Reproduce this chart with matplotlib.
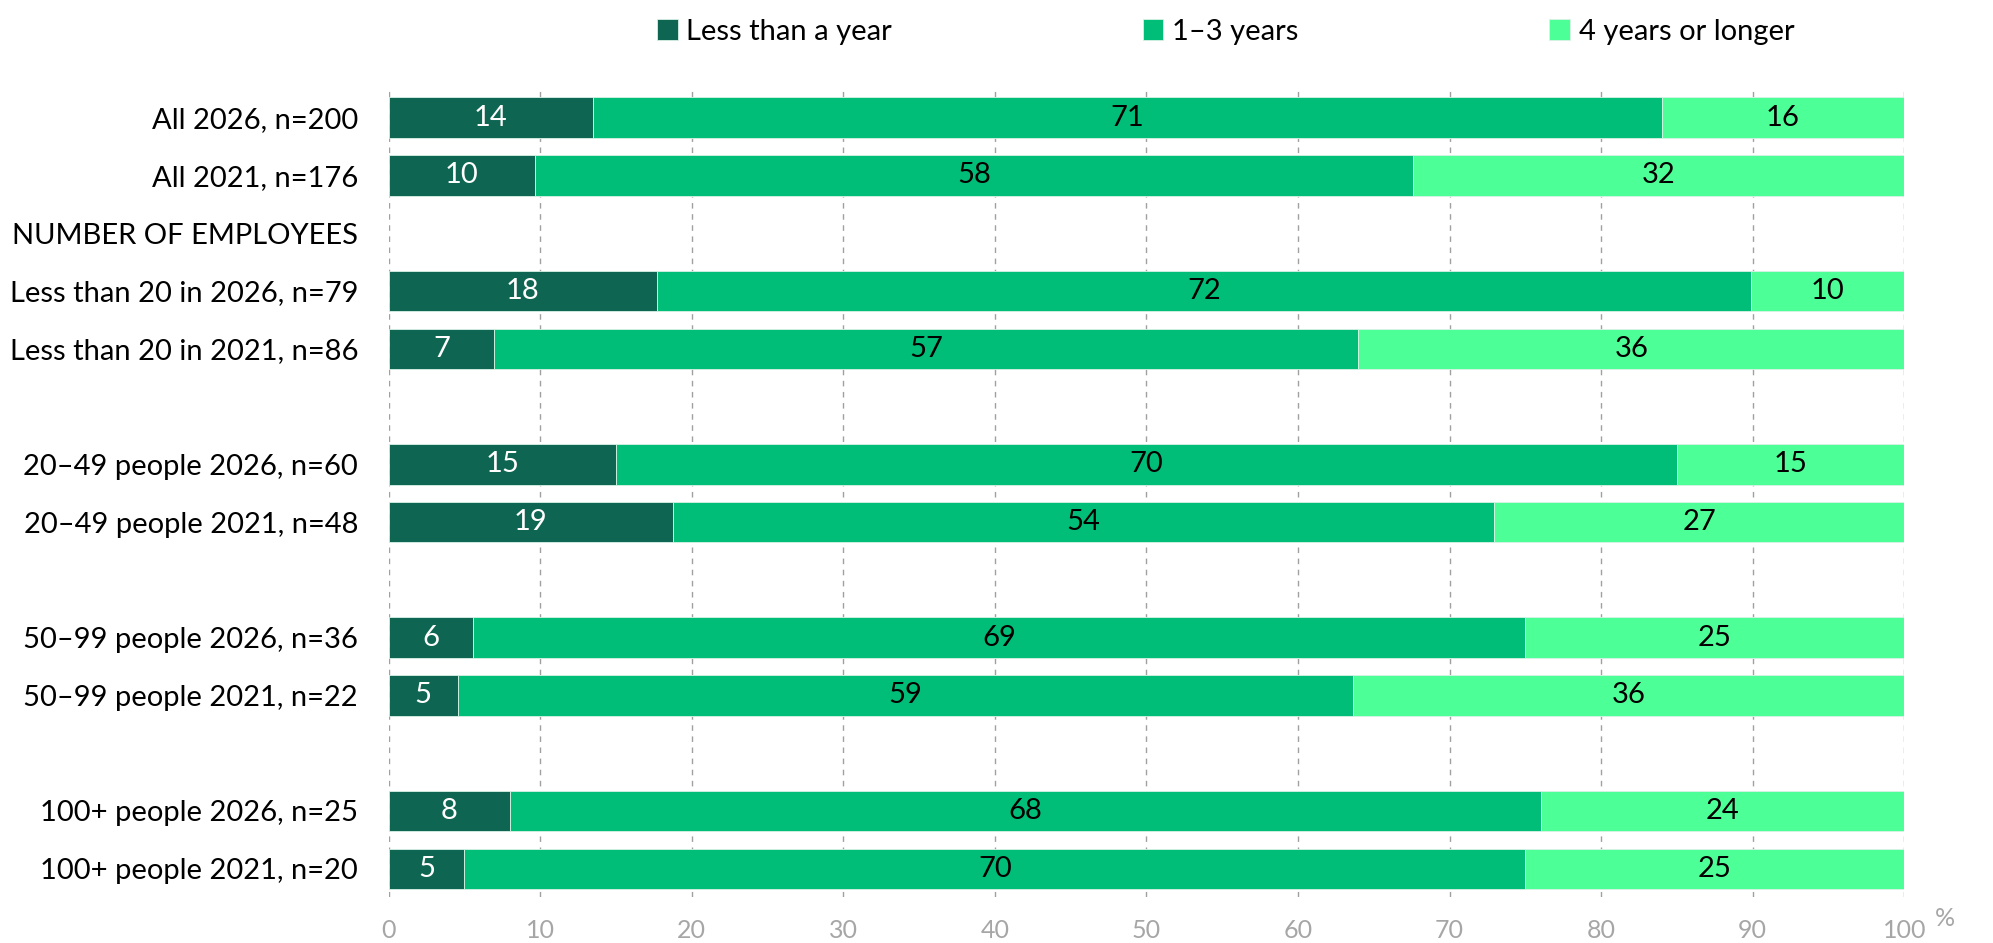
import matplotlib.pyplot as plt
import numpy as np

plt.rcParams['font.family'] = ['Lato', 'DejaVu Sans']

# rows top to bottom, empty string = spacer row
rows = ['All 2026, n=200', 'All 2021, n=176', 'NUMBER OF EMPLOYEES',
        'Less than 20 in 2026, n=79', 'Less than 20 in 2021, n=86', '',
        '20–49 people 2026, n=60', '20–49 people 2021, n=48', '',
        '50–99 people 2026, n=36', '50–99 people 2021, n=22', '',
        '100+ people 2026, n=25', '100+ people 2021, n=20']

# shares in %, None = no bar on that row
less_year = [13.5, 9.66, None, 17.72, 6.98, None, 15.0, 18.75, None, 5.56, 4.55, None, 8.0, 5.0]
one_three = [70.5, 57.95, None, 72.15, 56.98, None, 70.0, 54.17, None, 69.44, 59.09, None, 68.0, 70.0]
four_plus = [16.0, 32.39, None, 10.13, 36.05, None, 15.0, 27.08, None, 25.0, 36.36, None, 24.0, 25.0]

series = ['Less than a year', '1–3 years', '4 years or longer']
colors = ['#0e6652', '#00bd77', '#4dff97']
label_colors = ['white', 'black', 'black']

fig = plt.figure(figsize=(19.93, 9.43), dpi=100)
ax = fig.add_axes([0.195, 0.049, 0.7605, 0.856])

y = np.arange(len(rows))
left = np.zeros(len(rows))
for vals, name, c, tc in zip([less_year, one_three, four_plus], series, colors, label_colors):
    mask = np.array([v is not None for v in vals])
    v = np.array([x if x is not None else 0 for x in vals], dtype=float)
    ax.barh(y[mask], v[mask], left=left[mask], height=0.7, color=c, label=name,
            edgecolor='#d9f2e6', linewidth=0.6, zorder=3)
    for i in y[mask]:
        ax.text(left[i] + v[i] / 2, i, str(int(v[i] + 0.5)), ha='center', va='center',
                color=tc, fontsize=21, zorder=4)
    left = left + v

ax.set_xlim(0, 100)
ax.set_ylim(len(rows) - 0.515, -0.485)
ax.set_xticks(np.arange(0, 101, 10))
ax.set_yticks(y)
ax.set_yticklabels(rows, fontsize=21)
ax.tick_params(axis='y', length=0, pad=22)
ax.tick_params(axis='x', length=0, labelsize=18, labelcolor='#a6a6a6', pad=16)
ax.grid(axis='x', color='#a0a0a0', linestyle=(0, (4, 4)), linewidth=1, zorder=0)
for s in ax.spines.values():
    s.set_visible(False)
fig.text(0.976, 0.014, '%', color='#a6a6a6', fontsize=18, ha='center', va='bottom')

fig.legend(loc='upper center', bbox_to_anchor=(0.615, 1.008), ncol=3, frameon=False,
           fontsize=21, handlelength=0.7, handleheight=0.7, handletextpad=0.3,
           columnspacing=8.6)

fig.savefig('out.png', dpi=100)
